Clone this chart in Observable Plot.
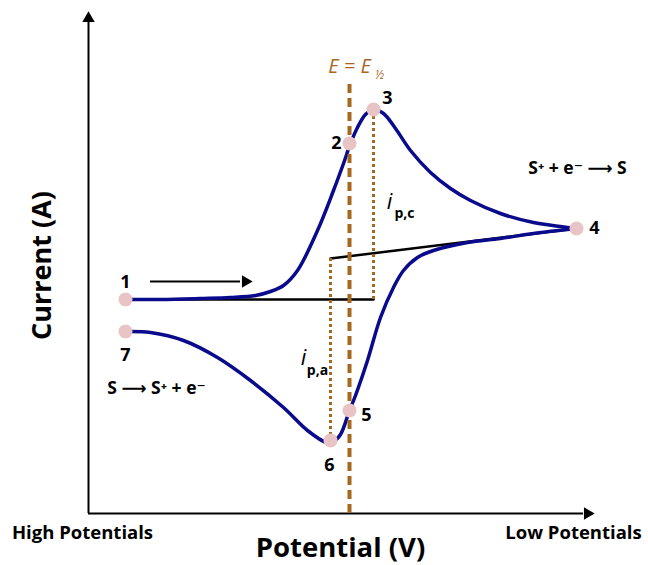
<!DOCTYPE html>
<html>
<head>
<meta charset="utf-8">
<script src="https://cdn.jsdelivr.net/npm/d3@7"></script>
<script src="https://cdn.jsdelivr.net/npm/@observablehq/plot@0.6"></script>
<style>
  html, body { margin: 0; padding: 0; background: #fff; }
  svg text { font-family: "Open Sans", "DejaVu Sans", sans-serif; }
</style>
</head>
<body>
<div id="chart"></div>
<script>
// Cyclic voltammogram, arbitrary units (potential grows toward lower potentials on the right)
const forwardE = [37, 72, 112, 142, 167, 182, 195, 209, 229, 245, 255, 262, 269, 277, 285, 295, 307, 322, 342, 362, 382, 412, 445, 472, 488];
const forwardI = [214, 214, 215, 216, 218, 222, 228, 243, 283, 323, 350, 370, 386, 399, 404, 400, 385, 363, 341, 325, 313, 300, 291, 287, 285];

const reverseE = [488, 445, 412, 379, 345, 329, 315, 305, 292, 279, 267, 261, 252, 245, 238, 219, 195, 162, 129, 95, 62, 37];
const reverseI = [285, 280, 275, 271, 263, 256, 243, 226, 196, 153, 118, 103, 79, 72, 71, 83, 106, 133, 156, 173, 181, 182];

// Numbered points along the scan
const pointNames = ["1", "2", "3", "4", "5", "6", "7"];
const pointE = [37, 261, 285, 488, 261, 242, 37];
const pointI = [214, 370, 404, 285, 103, 73, 182];
const labelShiftE = [0, -13, 14, 18, 17, -1, 0];
const labelShiftI = [17, 0, 11, 0, -5, -25, -24];

// Baselines used to measure the peak currents
const baselineCathodic = {E: [37, 285], I: [214, 214]};
const baselineAnodic = {E: [242, 488], I: [255, 285]};

// Half-wave potential and peak-current extents
const halfWaveE = 261;
const halfWaveTop = 434;
const peakCathodic = {E: 285, from: 214, to: 404};
const peakAnodic = {E: 242, from: 255, to: 73};

const axisEnd = {E: 503, I: 499};

const navy = "#0a0a8c";
const brown = "#a6681f";
const pink = "#e8c4c6";

const fwd = forwardE.map((e, k) => ({E: e, I: forwardI[k]}));
const rev = reverseE.map((e, k) => ({E: e, I: reverseI[k]}));
const pts = pointNames.map((n, k) => ({name: n, E: pointE[k], I: pointI[k],
  lx: pointE[k] + labelShiftE[k], ly: pointI[k] + labelShiftI[k]}));

const bold = {fontWeight: "bold", fill: "black"};

const chart = Plot.plot({
  width: 648,
  height: 565,
  marginLeft: 88,
  marginRight: 8,
  marginTop: 15,
  marginBottom: 52,
  x: {domain: [0, 552], axis: null},
  y: {domain: [0, 498], axis: null},
  marks: [
    // axes with arrow heads
    Plot.ruleY([0], {x1: 0, x2: axisEnd.E - 8, stroke: "black", strokeWidth: 2}),
    Plot.ruleX([0], {y1: 0, y2: axisEnd.I - 8, stroke: "black", strokeWidth: 2}),
    Plot.dot([{E: axisEnd.E - 4, I: 0}], {x: "E", y: "I", symbol: "triangle", r: 4.6, fill: "black", rotate: 90}),
    Plot.dot([{E: 0, I: axisEnd.I - 4}], {x: "E", y: "I", symbol: "triangle", r: 4.6, fill: "black"}),

    // scan direction arrow
    Plot.ruleY([232], {x1: 62, x2: 152, stroke: "black", strokeWidth: 2}),
    Plot.dot([{E: 157, I: 232}], {x: "E", y: "I", symbol: "triangle", r: 4.6, fill: "black", rotate: 90}),

    // baselines
    Plot.line(baselineCathodic.E.map((e, k) => ({E: e, I: baselineCathodic.I[k]})), {x: "E", y: "I", stroke: "black", strokeWidth: 2.5}),
    Plot.line(baselineAnodic.E.map((e, k) => ({E: e, I: baselineAnodic.I[k]})), {x: "E", y: "I", stroke: "black", strokeWidth: 2.5}),

    // voltammogram
    Plot.line(fwd, {x: "E", y: "I", curve: "catmull-rom", stroke: navy, strokeWidth: 3.5}),
    Plot.line(rev, {x: "E", y: "I", curve: "catmull-rom", stroke: navy, strokeWidth: 3.5}),

    // peak current guides
    Plot.ruleX([peakCathodic.E], {y1: peakCathodic.from, y2: peakCathodic.to, stroke: brown, strokeWidth: 3, strokeDasharray: "3,3"}),
    Plot.ruleX([peakAnodic.E], {y1: peakAnodic.from, y2: peakAnodic.to, stroke: brown, strokeWidth: 3, strokeDasharray: "3,3"}),
    // half-wave potential
    Plot.ruleX([halfWaveE], {y1: 0, y2: halfWaveTop, stroke: brown, strokeWidth: 4, strokeDasharray: "9,5"}),

    // numbered points
    Plot.dot(pts, {x: "E", y: "I", r: 7, fill: pink}),
    Plot.text(pts, {x: "lx", y: "ly", text: "name", fontSize: 18, ...bold}),

    // annotations
    Plot.text([{E: 261, I: 447}], {x: "E", y: "I", text: () => "E = E", fontSize: 20, fontStyle: "italic", fill: brown}),
    Plot.text([{E: 291, I: 438}], {x: "E", y: "I", text: () => "½", fontSize: 12, fontStyle: "italic", fill: brown}),
    Plot.text([{E: 301, I: 312}], {x: "E", y: "I", text: () => "i", fontSize: 22, fontStyle: "italic", fill: "black"}),
    Plot.text([{E: 316, I: 300}], {x: "E", y: "I", text: () => "p,c", fontSize: 14, ...bold}),
    Plot.text([{E: 215, I: 156}], {x: "E", y: "I", text: () => "i", fontSize: 22, fontStyle: "italic", fill: "black"}),
    Plot.text([{E: 229, I: 143}], {x: "E", y: "I", text: () => "p,a", fontSize: 14, ...bold}),
    Plot.text([{E: 489, I: 345}], {x: "E", y: "I", text: () => "S⁺ + e⁻ ⟶ S", fontSize: 17.5, ...bold}),
    Plot.text([{E: 68, I: 125}], {x: "E", y: "I", text: () => "S ⟶ S⁺ + e⁻", fontSize: 17.5, ...bold}),

    // axis titles
    Plot.text([{E: -46, I: 248}], {x: "E", y: "I", text: () => "Current (A)", fontSize: 27, rotate: -90, ...bold}),
    Plot.text([{E: 252, I: -35}], {x: "E", y: "I", text: () => "Potential (V)", fontSize: 27.5, ...bold}),
    Plot.text([{E: -6, I: -20}], {x: "E", y: "I", text: () => "High Potentials", fontSize: 18.5, ...bold}),
    Plot.text([{E: 485, I: -20}], {x: "E", y: "I", text: () => "Low Potentials", fontSize: 18.5, ...bold})
  ]
});

document.getElementById("chart").appendChild(chart);
</script>
</body>
</html>
